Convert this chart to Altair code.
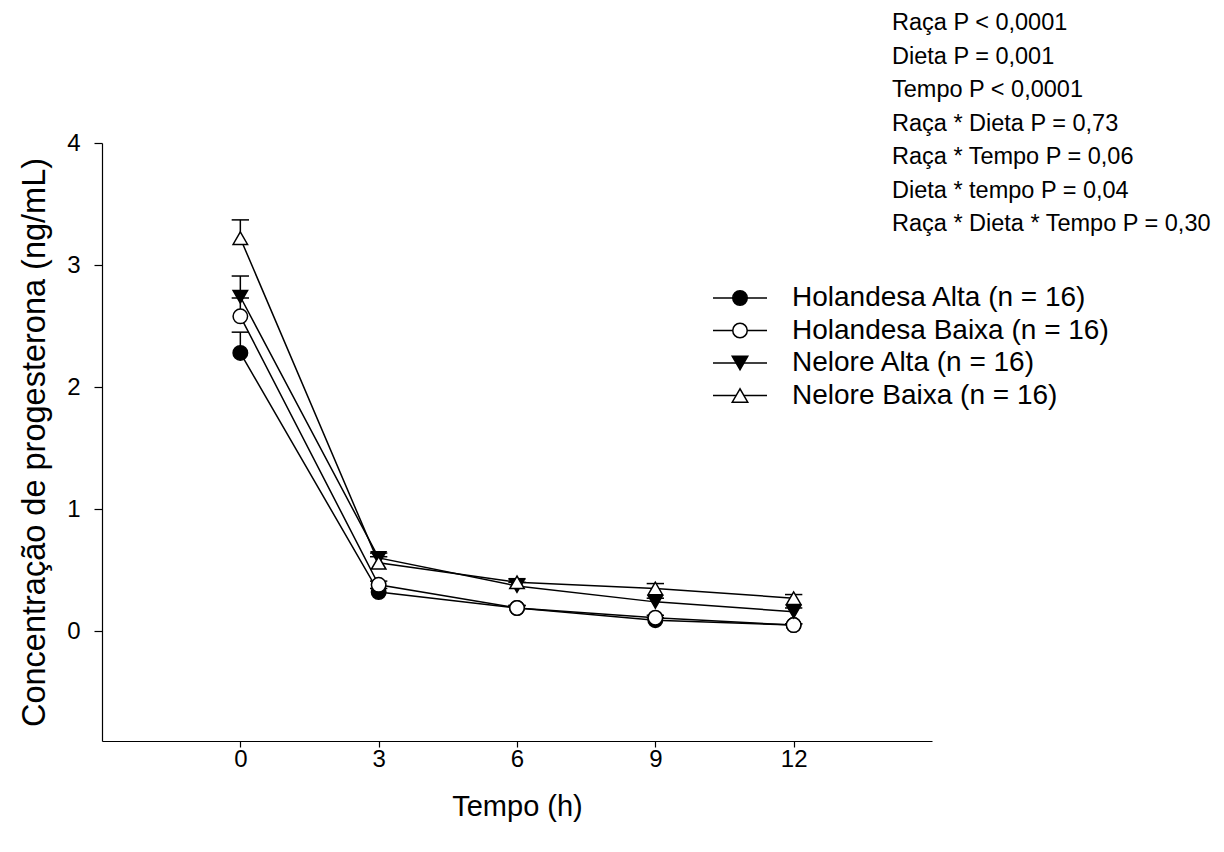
import altair as alt
import pandas as pd

# ---- data ----
times = [0, 3, 6, 9, 12]
series = ["Holandesa Alta (n = 16)", "Holandesa Baixa (n = 16)",
          "Nelore Alta (n = 16)", "Nelore Baixa (n = 16)"]
hol_alta = [2.28, 0.32, 0.19, 0.09, 0.05]
hol_baixa = [2.58, 0.38, 0.19, 0.11, 0.05]
nel_alta = [2.74, 0.60, 0.37, 0.24, 0.16]
nel_baixa = [3.22, 0.56, 0.40, 0.35, 0.27]
hol_alta_se = [0.17, 0.03, 0.02, 0.02, 0.01]
hol_baixa_se = [0.15, 0.03, 0.02, 0.02, 0.01]
nel_alta_se = [0.17, 0.04, 0.03, 0.03, 0.03]
nel_baixa_se = [0.15, 0.05, 0.03, 0.04, 0.03]

shapes = ["circle", "circle", "triangle-down", "triangle-up"]
fills = ["black", "white", "black", "white"]
sizes = [210, 210, 240, 240]

annotations = ["Raça P < 0,0001", "Dieta P = 0,001", "Tempo P < 0,0001",
               "Raça * Dieta P = 0,73", "Raça * Tempo P = 0,06",
               "Dieta * tempo P = 0,04", "Raça * Dieta * Tempo P = 0,30"]

x_ticks = [0, 3, 6, 9, 12]
y_ticks = [0, 1, 2, 3, 4]

FONT = "Liberation Sans"

rows = []
for s, vals, ses in zip(series, [hol_alta, hol_baixa, nel_alta, nel_baixa],
                        [hol_alta_se, hol_baixa_se, nel_alta_se, nel_baixa_se]):
    for t, v, e in zip(times, vals, ses):
        rows.append({"serie": s, "tempo": t, "valor": v, "sup": v + e})
df = pd.DataFrame(rows)

W, H = 830, 598
x_scale = alt.Scale(domain=[-3, 15], nice=False, zero=False)
y_scale = alt.Scale(domain=[-0.9, 4], nice=False, zero=False)

X = alt.X("tempo:Q", scale=x_scale,
          axis=alt.Axis(values=x_ticks, title="Tempo (h)", grid=False, format="d",
                        domainColor="black", domainWidth=1.2, tickColor="black",
                        tickWidth=1.2, tickSize=6, labelFontSize=24, labelFont=FONT,
                        labelColor="black", labelPadding=0, titleFont=FONT,
                        titleFontSize=29, titleFontWeight="normal",
                        titleColor="black", titlePadding=21))
Y = alt.Y("valor:Q", scale=y_scale,
          axis=alt.Axis(values=y_ticks, title="Concentração de progesterona (ng/mL)",
                        grid=False, format="d", domainColor="black", domainWidth=1.2,
                        tickColor="black", tickWidth=1.2, tickSize=8, labelFontSize=24,
                        labelFont=FONT, labelColor="black", labelPadding=14,
                        titleFont=FONT, titleFontSize=32.5, titleFontWeight="normal",
                        titleColor="black", titlePadding=15))

shape_scale = alt.Scale(domain=series, range=shapes)
fill_scale = alt.Scale(domain=series, range=fills)
size_scale = alt.Scale(domain=series, range=sizes)

base = alt.Chart(df)

lines = base.mark_line(color="black", strokeWidth=1.5).encode(
    x=X, y=Y, detail="serie:N", order="tempo:Q")

err = base.mark_rule(color="black", strokeWidth=1.5).encode(
    x="tempo:Q", y="valor:Q", y2="sup:Q")

caps = base.mark_point(shape="stroke", color="black", strokeWidth=1.5,
                       size=300, opacity=1).encode(
    x="tempo:Q", y=alt.Y("sup:Q"))

pts = base.mark_point(stroke="black", strokeWidth=1.5, opacity=1).encode(
    x="tempo:Q", y="valor:Q",
    shape=alt.Shape("serie:N", scale=shape_scale, legend=None),
    fill=alt.Fill("serie:N", scale=fill_scale, legend=None),
    size=alt.Size("serie:N", scale=size_scale, legend=None))

layers = [lines, err, caps, pts]

# ---- manual legend (line + marker + label), in pixel space ----
leg_y0, leg_dy = 155, 32.5
for i, s in enumerate(series):
    ld = pd.DataFrame({"serie": [s]})
    yy = leg_y0 + i * leg_dy
    layers.append(alt.Chart(ld).mark_rule(color="black", strokeWidth=1.5).encode(
        x=alt.value(611), x2=alt.value(665), y=alt.value(yy)))
    layers.append(alt.Chart(ld).mark_point(stroke="black", strokeWidth=1.5, opacity=1,
                                           shape=shapes[i], fill=fills[i],
                                           size=sizes[i]).encode(
        x=alt.value(638), y=alt.value(yy)))
    layers.append(alt.Chart(ld).mark_text(align="left", baseline="middle", font=FONT,
                                          fontSize=28, color="black").encode(
        x=alt.value(690), y=alt.value(yy), text="serie:N"))

# ---- statistics annotation ----
ann_y0, ann_dy = -120, 33.5
for i, a in enumerate(annotations):
    ad = pd.DataFrame({"txt": [a]})
    layers.append(alt.Chart(ad).mark_text(align="left", baseline="middle", font=FONT,
                                          fontSize=23.5, color="black").encode(
        x=alt.value(790), y=alt.value(ann_y0 + i * ann_dy), text="txt:N"))

chart = alt.layer(*layers).properties(
    width=W, height=H,
    autosize=alt.AutoSizeParams(type="none"),
    padding={"left": 94, "top": 135, "right": 284, "bottom": 103},
).configure_view(strokeWidth=0)

chart.save("out.html", embed_options={"renderer": "svg", "actions": False})
